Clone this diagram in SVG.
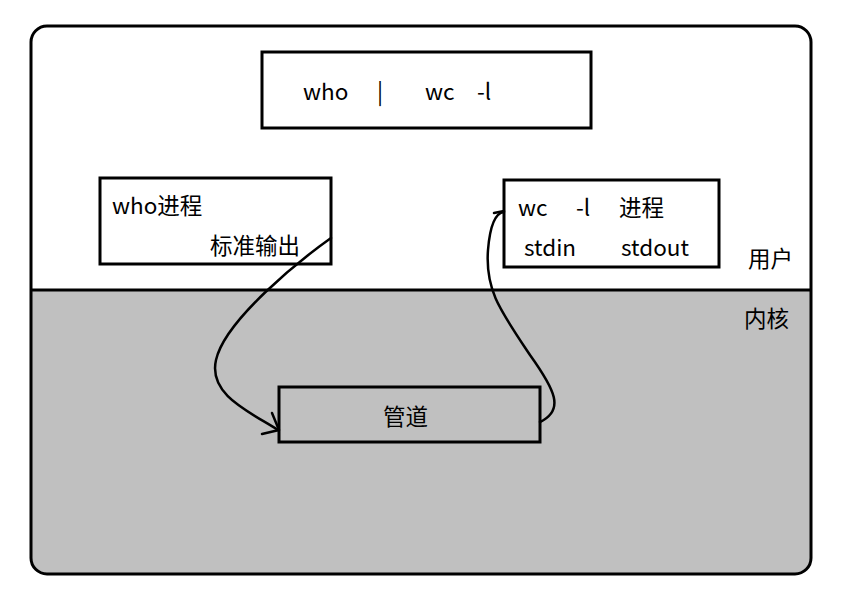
<svg xmlns="http://www.w3.org/2000/svg" width="845" height="611" viewBox="0 0 845 611">
<style>
.box{fill:#fff;stroke:#000;stroke-width:3}
.t{font-family:"Noto Sans CJK SC","Noto Sans",sans-serif;font-size:22.5px;fill:#000}
.c{fill:none;stroke:#000;stroke-width:2.5;stroke-linecap:round;stroke-linejoin:round}
</style>
<defs>
<clipPath id="outer"><rect x="31" y="26" width="780" height="548" rx="16"/></clipPath>
</defs>
<rect x="0" y="0" width="845" height="611" fill="#fff"/>
<g id="regions">
<rect x="31" y="290" width="780" height="290" fill="#c0c0c0" clip-path="url(#outer)"/>
<rect x="31" y="26" width="780" height="548" rx="16" fill="none" stroke="#000" stroke-width="3"/>
<line x1="31" y1="290" x2="811" y2="290" stroke="#000" stroke-width="3"/>
<text class="t" x="748" y="267">用户</text>
<text class="t" x="744" y="327">内核</text>
</g>
<g id="cmd">
<rect class="box" x="262" y="52" width="329" height="76"/>
<text class="t" x="303" y="100">who</text>
<text class="t" x="377" y="100">|</text>
<text class="t" x="425" y="100">wc</text>
<text class="t" x="477" y="100">-l</text>
</g>
<g id="who">
<rect class="box" x="100" y="178" width="231" height="86"/>
<text class="t" x="112" y="214">who进程</text>
<text class="t" x="210" y="254">标准输出</text>
</g>
<g id="wc">
<rect class="box" x="504" y="180" width="215" height="87"/>
<text class="t" x="518" y="216">wc</text>
<text class="t" x="576" y="216">-l</text>
<text class="t" x="619" y="216">进程</text>
<text class="t" x="524" y="256">stdin</text>
<text class="t" x="621" y="256">stdout</text>
</g>
<g id="pipe">
<rect x="279" y="387" width="261" height="55" fill="#c0c0c0" stroke="#000" stroke-width="3"/>
<text class="t" x="383" y="425">管道</text>
</g>
<g id="connectors">
<path class="c" d="M331,238 C300,260 225,320 216,360 C208,395 250,412 278,430"/>
<path class="c" d="M262,434 L279,430 L272,413"/>
<path class="c" d="M540,422 C565,410 555,390 530,355 C500,310 485,290 488,250 C490,225 495,213 504,212"/>
<path class="c" d="M494,213 L504,211"/>
</g>
</svg>
